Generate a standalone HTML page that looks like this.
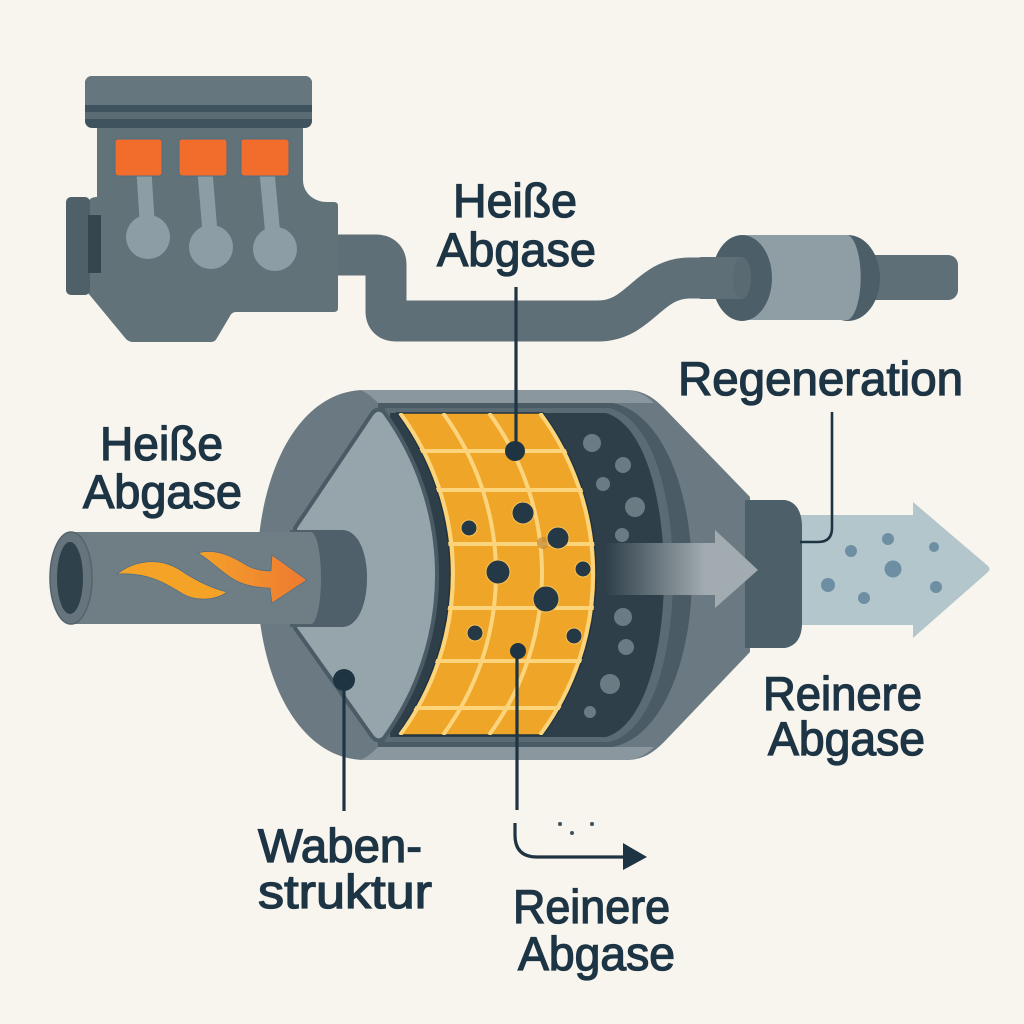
<!DOCTYPE html>
<html><head><meta charset="utf-8"><style>
html,body{margin:0;padding:0;background:#f8f4ee;}
svg{display:block;}
</style></head><body>
<svg width="1024" height="1024" viewBox="0 0 1024 1024" xmlns="http://www.w3.org/2000/svg">
<defs>
<linearGradient id="garrow" gradientUnits="userSpaceOnUse" x1="605" y1="0" x2="705" y2="0">
<stop offset="0" stop-color="#2e3f4a"/><stop offset="0.25" stop-color="#4a5962"/><stop offset="1" stop-color="#a1abb0"/>
</linearGradient>
<linearGradient id="fl2" gradientUnits="userSpaceOnUse" x1="198" y1="0" x2="307" y2="0">
<stop offset="0" stop-color="#f4a12a"/><stop offset="1" stop-color="#ee7a30"/>
</linearGradient>
<clipPath id="comb">
<path d="M 397 413 L 543 413 A 271 271 0 0 1 543 735 L 397 735 A 271 271 0 0 0 397 413 Z"/>
</clipPath>
</defs>
<rect width="1024" height="1024" fill="#f8f4ee"/>

<!-- exhaust pipe from engine -->
<path d="M 330 255 L 376 255 Q 386 255 386 265 L 386 311 Q 386 321 396 321 L 598 321 C 640 321 648 278 690 278 L 742 278" stroke="#5f6f78" stroke-width="41" fill="none" stroke-linejoin="round"/>

<!-- muffler -->
<rect x="855" y="255" width="103" height="45" rx="10" fill="#5f6f78"/>
<ellipse cx="848" cy="278" rx="32" ry="43" fill="#4c5e68"/>
<path d="M 742 235 L 848 235 A 15 43 0 0 1 848 320 L 742 320 Z" fill="#8f9da4"/>
<ellipse cx="742" cy="278" rx="30" ry="43" fill="#4c5e68"/>
<rect x="700" y="257" width="42" height="42" fill="#5f6f78"/>
<ellipse cx="742" cy="278" rx="9" ry="21" fill="#5a6a73"/>

<!-- engine -->
<path d="M 97 128 L 303 128 L 303 180 C 303 193 314 202 327 202 L 334 202 Q 338 202 338 206 L 338 308 Q 338 312 334 312 L 236 312 Q 232 312 230 316 L 217 338 Q 215 342 211 342 L 133 342 Q 129 342 126 339 L 88 293 L 88 205 Q 88 197 97 197 Z" fill="#627279"/>
<rect x="85" y="76" width="227" height="52" rx="7" fill="#3e535d"/>
<rect x="85" y="76" width="227" height="29" rx="7" fill="#66767e"/>
<rect x="85" y="92" width="227" height="13" fill="#66767e"/>
<rect x="85" y="112" width="227" height="7" fill="#5b6b74"/>
<rect x="66" y="197" width="24" height="98" rx="5" fill="#4f6069"/>
<rect x="88" y="215" width="13" height="58" fill="#34474f"/>
<g stroke="#8c9da5" stroke-width="15">
<line x1="144" y1="172" x2="148" y2="235"/>
<line x1="205" y1="172" x2="211" y2="245"/>
<line x1="267" y1="172" x2="274" y2="247"/>
</g>
<g fill="#8c9da5">
<circle cx="148" cy="237" r="22"/>
<circle cx="211" cy="247" r="22"/>
<circle cx="275" cy="249" r="22"/>
</g>
<g fill="#f26d2b" stroke="#4a6f88" stroke-width="1">
<rect x="115" y="139" width="47" height="37" rx="3"/>
<rect x="179" y="139" width="48" height="37" rx="3"/>
<rect x="241" y="139" width="48" height="37" rx="3"/>
</g>

<!-- blue outlet arrow -->
<rect x="785" y="515" width="130" height="110" fill="#b3c6cc"/>
<path d="M 913 502 L 988 566 Q 991 569 988 572 L 913 638 Z" fill="#b3c6cc"/>
<g fill="#6e8fa3">
<circle cx="851" cy="551" r="6"/><circle cx="888" cy="539" r="6"/><circle cx="934" cy="547" r="5"/>
<circle cx="893" cy="569" r="8.5"/><circle cx="828" cy="585" r="7"/><circle cx="864" cy="598" r="6"/><circle cx="936" cy="587" r="6"/>
</g>

<!-- DPF shell -->
<path d="M 365 390 L 625 390 C 642 390 652 396 664 408 L 750 497 L 750 652 L 664 742 C 652 754 642 760 625 760 L 365 760 C 300 760 257 680 257 575 C 257 470 300 390 365 390 Z" fill="#6b7a82"/>
<path d="M 360 390 L 625 390 C 636 390 646 395 654 403 L 378 403 C 372 397 366 392 360 390 Z" fill="#8a979e"/>
<path d="M 378 747 L 654 747 C 646 755 636 760 625 760 L 360 760 C 366 758 372 753 378 747 Z" fill="#8a979e"/>
<!-- nozzle -->
<path d="M 745 500 L 785 500 Q 801 503 802 525 L 802 625 Q 801 645 785 648 L 745 648 Z" fill="#4d5f69"/>
<!-- inner rings -->
<path d="M 378 403 L 612 403 C 662 412 692 490 692 575 C 692 660 662 738 612 747 L 378 747 Z" fill="#4a5b65"/>
<path d="M 385 408 L 609 408 C 652 418 673 495 673 575 C 673 655 652 732 609 742 L 385 742 Z" fill="#5b6b74"/>
<path d="M 390 413 L 606 413 C 645 425 664 500 664 575 C 664 650 645 725 606 737 L 390 737 Z" fill="#2e3f4a"/>
<g fill="#6b7b84">
<circle cx="592" cy="443" r="9"/><circle cx="623" cy="465" r="8"/><circle cx="603" cy="484" r="7"/>
<circle cx="635" cy="507" r="10"/><circle cx="622" cy="535" r="7"/><circle cx="623" cy="617" r="9"/>
<circle cx="626" cy="647" r="8"/><circle cx="610" cy="684" r="10"/><circle cx="590" cy="712" r="6"/>
</g>
<!-- gray arrow -->
<rect x="603" y="543" width="114" height="52" fill="url(#garrow)"/>
<path d="M 715 530 L 758 570 L 715 608 Z" fill="#a1abb0"/>

<!-- honeycomb -->
<path d="M 397 413 L 543 413 A 271 271 0 0 1 543 735 L 397 735 A 271 271 0 0 0 397 413 Z" fill="#efa527" stroke="#1f3442" stroke-width="1.5"/>
<g clip-path="url(#comb)" stroke="#fcd47c" stroke-width="4" fill="none">
<path d="M 443 413 A 271 271 0 0 1 443 735"/>
<path d="M 489 413 A 271 271 0 0 1 489 735"/>
<path d="M 400 413 A 271 271 0 0 1 400 735"/>
<path d="M 540 413 A 271 271 0 0 1 540 735"/>
<line x1="380" y1="451" x2="620" y2="451"/>
<line x1="380" y1="490" x2="620" y2="490"/>
<line x1="380" y1="544" x2="620" y2="544"/>
<line x1="380" y1="608" x2="620" y2="608"/>
<line x1="380" y1="661" x2="620" y2="661"/>
<line x1="380" y1="708" x2="620" y2="708"/>
</g>
<circle cx="543" cy="543" r="6" fill="#c58a3a" opacity="0.7"/>
<g fill="#243846" stroke="#f7c45a" stroke-width="1">
<circle cx="523" cy="513" r="11"/><circle cx="469" cy="528" r="8"/><circle cx="558" cy="538" r="11"/>
<circle cx="498" cy="572" r="12"/><circle cx="583" cy="569" r="8"/><circle cx="546" cy="599" r="13"/>
<circle cx="475" cy="633" r="8"/><circle cx="574" cy="636" r="8"/>
</g>

<!-- light inlet face -->
<path d="M 371 415 Q 377 406 384 412 A 277 277 0 0 1 384 738 Q 377 744 371 735 L 295 628 L 295 528 Z" fill="#96a4ab" stroke="#4a5b65" stroke-width="4" stroke-linejoin="round"/>

<!-- inlet collar and pipe -->
<path d="M 290 530 L 342 530 C 358 530 367 552 367 578 C 367 604 358 627 342 627 L 290 627 Z" fill="#4f606a"/>
<rect x="71" y="532" width="240" height="92" fill="#6f7d85"/>
<ellipse cx="311" cy="578" rx="10" ry="46" fill="#6f7d85"/>
<ellipse cx="71" cy="578" rx="21" ry="46" fill="#66757d" stroke="#55646c" stroke-width="1.5"/>
<ellipse cx="70" cy="578" rx="13" ry="36" fill="#2f414b"/>
<path d="M 117 574 C 135 560 160 557 180 570 C 195 580 210 588 227 592 C 215 601 195 601 183 594 C 168 585 150 572 117 574 Z" fill="#f4a326" stroke="#3e6a8f" stroke-width="0.6"/>
<path d="M 198 553 C 215 548 232 556 248 566 C 256 570 264 571 271 571 L 272 555 L 307 580 L 272 603 L 270 588 C 258 588 245 586 233 579 C 220 571 210 560 198 553 Z" fill="url(#fl2)" stroke="#3e6a8f" stroke-width="0.6"/>

<!-- connectors -->
<g stroke="#1f3442" stroke-width="3.2" fill="none">
<line x1="516" y1="287" x2="516" y2="451"/>
<line x1="344" y1="680" x2="344" y2="811"/>
<line x1="517" y1="651" x2="517" y2="810"/>
<path d="M 515 823 L 515 835 Q 515 857 537 857 L 628 857"/>
<path d="M 832 412 L 832 528 Q 832 542 818 542 L 800 542" stroke-width="2.6"/>
</g>
<g fill="#1f3442">
<circle cx="515" cy="451" r="10"/>
<circle cx="344" cy="680" r="11"/>
<circle cx="518" cy="651" r="8"/>
<path d="M 623 843 L 647 857 L 623 870 Z"/>
</g>
<g fill="#3b5260">
<circle cx="560" cy="824" r="2"/><circle cx="572" cy="833" r="2"/><circle cx="592" cy="824" r="2"/>
</g>

<!-- labels -->
<g font-family="'Liberation Sans', sans-serif" font-size="47" fill="#1c3444" stroke="#1c3444" stroke-width="1.3">
<text x="453" y="217" textLength="124" lengthAdjust="spacingAndGlyphs">Heiße</text>
<text x="437" y="266" textLength="159" lengthAdjust="spacingAndGlyphs">Abgase</text>
<text x="100" y="460" textLength="123" lengthAdjust="spacingAndGlyphs">Heiße</text>
<text x="83" y="508" textLength="159" lengthAdjust="spacingAndGlyphs">Abgase</text>
<text x="678" y="395" textLength="285" lengthAdjust="spacingAndGlyphs">Regeneration</text>
<text x="763" y="710" textLength="159" lengthAdjust="spacingAndGlyphs">Reinere</text>
<text x="768" y="755" textLength="157" lengthAdjust="spacingAndGlyphs">Abgase</text>
<text x="258" y="862" textLength="164" lengthAdjust="spacingAndGlyphs">Waben-</text>
<text x="258" y="908" textLength="174" lengthAdjust="spacingAndGlyphs">struktur</text>
<text x="513" y="923" textLength="157" lengthAdjust="spacingAndGlyphs">Reinere</text>
<text x="518" y="970" textLength="157" lengthAdjust="spacingAndGlyphs">Abgase</text>
</g>
</svg>
</body></html>
